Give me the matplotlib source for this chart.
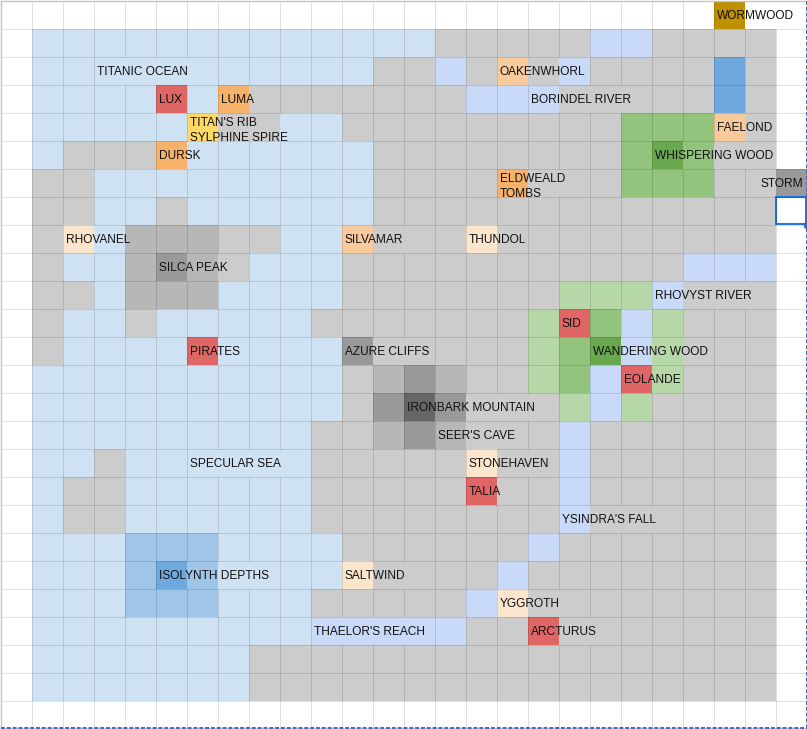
import numpy as np
import matplotlib
matplotlib.use('Agg')
import matplotlib.pyplot as plt
from matplotlib.colors import ListedColormap
from matplotlib.patches import Rectangle

plt.rcParams['font.family'] = ['Liberation Sans', 'DejaVu Sans']

# one letter per cell
map_rows = [
    '.'*23 + 'W..',
    '.' + 'o'*13 + 'g'*5 + 'rr' + 'g'*4 + '.',
    '.' + 'o'*11 + 'gg' + 'r' + 'g' + 'P' + 'g' + 'r' + 'g'*4 + 'M' + 'g' + '.',
    '.' + 'oooo' + 'R' + 'o' + 'O' + 'g'*7 + 'rrr' + 'g'*5 + 'M' + 'g' + '.',
    '.' + 'ooooo' + 'Y' + 'gg' + 'oo' + 'g'*9 + 'FFF' + 'P' + 'g' + '.',
    '.' + 'o' + 'ggg' + 'O' + 'o'*6 + 'g'*8 + 'FGF' + 'gg' + '.',
    '.' + 'gg' + 'o'*9 + 'g'*4 + 'O' + 'ggg' + 'FFF' + 'gg' + 'D',
    '.' + 'gg' + 'oo' + 'g' + 'o'*6 + 'g'*13 + '.',
    '.' + 'g' + 'C' + 'o' + 'ddd' + 'gg' + 'oo' + 'P' + 'ggg' + 'C' + 'g'*9 + '.',
    '.' + 'g' + 'oo' + 'dDd' + 'g' + 'ooo' + 'g'*11 + 'rrr' + '.',
    '.' + 'gg' + 'o' + 'ddd' + 'oooo' + 'g'*7 + 'fff' + 'r' + 'ggg' + '.',
    '.' + 'g' + 'oo' + 'g' + 'ooooo' + 'g'*7 + 'fRFrf' + 'ggg' + '.',
    '.' + 'g' + 'oooo' + 'R' + 'oooo' + 'D' + 'g'*5 + 'fFGrf' + 'ggg' + '.',
    '.' + 'o'*10 + 'g' + 'dDd' + 'gg' + 'fFrRf' + 'ggg' + '.',
    '.' + 'o'*10 + 'g' + 'DKD' + 'ggg' + 'frf' + 'gggg' + '.',
    '.' + 'o'*9 + 'gg' + 'dDd' + 'ggg' + 'r' + 'g'*6 + '.',
    '.' + 'oo' + 'g' + 'o'*6 + 'g'*5 + 'C' + 'gg' + 'r' + 'g'*6 + '.',
    '.' + 'o' + 'gg' + 'o'*6 + 'g'*5 + 'R' + 'gg' + 'r' + 'g'*6 + '.',
    '.' + 'o' + 'gg' + 'o'*6 + 'g'*8 + 'r' + 'g'*6 + '.',
    '.' + 'ooo' + 'mmm' + 'oooo' + 'g'*6 + 'r' + 'g'*7 + '.',
    '.' + 'ooo' + 'mMm' + 'oooo' + 'C' + 'g'*4 + 'r' + 'g'*8 + '.',
    '.' + 'ooo' + 'mmm' + 'ooo' + 'g'*5 + 'rC' + 'g'*8 + '.',
    '.' + 'o'*9 + 'r'*5 + 'gg' + 'R' + 'g'*7 + '.',
    '.' + 'o'*7 + 'g'*17 + '.',
    '.' + 'o'*7 + 'g'*17 + '.',
    '.'*26,
]

cell_colors = {
    '.': '#ffffff', 'o': '#cfe2f3', 'g': '#cccccc', 'r': '#c9daf8',
    'd': '#b7b7b7', 'D': '#999999', 'K': '#666666',
    'm': '#9fc5e8', 'M': '#6fa8dc',
    'f': '#b6d7a8', 'F': '#93c47d', 'G': '#6aa84f',
    'R': '#e06666', 'O': '#f6b26b', 'P': '#f9cb9c', 'C': '#fce5cd',
    'Y': '#ffd966', 'W': '#bf9000',
}

# text, row, column, cells the text runs over
place_names = ['WORMWOOD', 'TITANIC OCEAN', 'OAKENWHORL', 'LUX', 'LUMA', 'BORINDEL RIVER',
               "TITAN'S RIB\nSYLPHINE SPIRE", 'FAELOND', 'DURSK', 'WHISPERING WOOD',
               'ELDWEALD\nTOMBS', 'RHOVANEL', 'SILVAMAR', 'THUNDOL', 'SILCA PEAK',
               'RHOVYST RIVER', 'SID', 'PIRATES', 'AZURE CLIFFS', 'WANDERING WOOD',
               'EOLANDE', 'IRONBARK MOUNTAIN', "SEER'S CAVE", 'SPECULAR SEA', 'STONEHAVEN',
               'TALIA', "YSINDRA'S FALL", 'ISOLYNTH DEPTHS', 'SALTWIND', 'YGGROTH',
               "THAELOR'S REACH", 'ARCTURUS']
place_rows = [0, 2, 2, 3, 3, 3, 4, 4, 5, 5, 6, 8, 8, 8, 9, 10, 11, 12, 12, 12,
              13, 14, 15, 16, 16, 17, 18, 20, 20, 21, 22, 22]
place_cols = [23, 3, 16, 5, 7, 17, 6, 23, 5, 21, 16, 2, 11, 15, 5, 21, 18, 6, 11, 19,
              20, 13, 14, 6, 15, 15, 18, 5, 11, 16, 10, 17]
place_spans = [3, 4, 3, 1, 2, 4, 4, 2, 2, 4, 3, 3, 3, 2, 3, 4, 1, 2, 3, 4,
               2, 5, 3, 4, 3, 2, 4, 4, 3, 3, 4, 3]

codes = list(cell_colors)
grid = np.array([[codes.index(ch) for ch in row] for row in map_rows])
n_rows, n_cols = grid.shape

W, H = 807, 729
CW, CH = 31, 28
FONT = 8.6

fig = plt.figure(figsize=(W / 100, H / 100), dpi=100)
ax = fig.add_axes([0, 0, 1, 1])
ax.set_xlim(-0.5 / CW, (W - 0.5) / CW)
ax.set_ylim((H - 0.5) / CH, -0.5 / CH)
ax.axis('off')

ax.pcolormesh(np.arange(n_cols + 1), np.arange(n_rows + 1), grid,
              cmap=ListedColormap([cell_colors[c] for c in codes]),
              vmin=-0.5, vmax=len(codes) - 0.5, antialiased=False)

# text that runs over its neighbours hides the grid line between them
hidden = set()
for r, c, s in zip(place_rows, place_cols, place_spans):
    for k in range(c + 1, c + s):
        hidden.add((r, k))
hidden.add((6, 25))

line_kw = dict(colors='black', alpha=0.12, linewidth=0.72)
for k in range(1, n_cols + 1):
    for r in range(n_rows):
        if (r, k) not in hidden:
            ax.vlines(k, r, r + 1, **line_kw)
ax.hlines(np.arange(1, n_rows + 1), 0, n_cols, **line_kw)

# sheet edge top and left
ax.plot([0, 26], [0, 0], color='#c4c4c4', linewidth=1.0)
ax.plot([0, 0], [0, 26], color='#c4c4c4', linewidth=1.0)

for name, r, c in zip(place_names, place_rows, place_cols):
    two_lines = '\n' in name
    ax.text(c + 0.10, r + (0.66 if two_lines else 0.55), name, fontsize=FONT, color='#111111',
            ha='left', va='center', linespacing=1.33)
ax.text(25.90, 6.55, 'STORM', fontsize=FONT, color='#111111', ha='right', va='center')

# selected cell
ax.add_patch(Rectangle((25.03, 7.02), 0.95, 0.96, fill=False, edgecolor='#1a73e8', linewidth=1.4))
ax.plot([26], [8], 'o', color='#1a73e8', markersize=4.5)

# print-area edge
ax.plot([0, 26.1], [26.0, 26.0], color='black', linewidth=1.0)
ax.plot([26, 26], [0, 26], color='#1a73e8', linewidth=1.4, linestyle=(0, (2, 1)))
ax.plot([0, 26], [25.97, 25.97], color='#1a73e8', linewidth=1.4, linestyle=(0, (2, 1)))

fig.savefig('out.png', dpi=100)
